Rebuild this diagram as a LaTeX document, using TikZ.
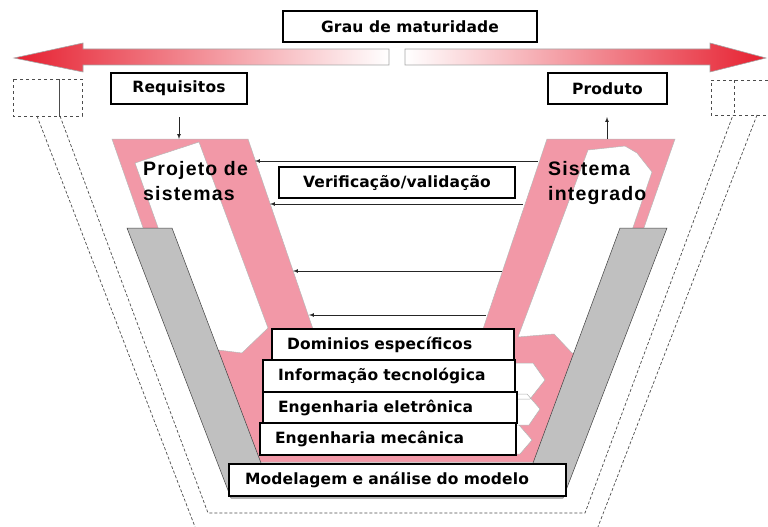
\documentclass[tikz,border=0pt]{standalone}
\usepackage{fontspec}
\setmainfont{Liberation Sans}
\newfontfamily\lblfont[LetterSpace=1]{DejaVu Sans}
\newfontfamily\bigfont[LetterSpace=6]{Liberation Sans}
\usetikzlibrary{positioning, arrows}
\definecolor{vred}{RGB}{230,32,48}
\definecolor{vpink}{RGB}{242,152,167}
\definecolor{vgray}{RGB}{192,192,192}
\tikzset{
 lbox/.style={draw=black, line width=1.1pt, fill=white, minimum height=31pt, inner sep=0pt,
    font=\lblfont\bfseries\fontsize{15.5}{17}\selectfont},
 sbox/.style={align=left, inner xsep=15pt}
}

\begin{document}
\begin{tikzpicture}[x=1pt,y=-1pt]
\tikzstyle{connect}=[-latex, gray!30!black, line width=0.7pt]
\tikzstyle{guide}=[dashed, gray!60!black, line width=0.7pt]
\tikzstyle{bigtxt}=[font=\bigfont\bfseries\fontsize{19.5}{25}\selectfont, align=left, inner sep=0pt]
\useasboundingbox (0,0) rectangle (768,527);
% 1. Frame and arrows
%%%%%%%%%%
\draw[guide, line width=1pt] (13,79) rectangle (59,116) (59,79) rectangle (82,116);
\draw[guide, line width=1pt] (768,80) -- (711,80) -- (711,115) -- (768,115) (734,80) -- (734,115);
\draw[guide, densely dashed] (37,116) -- (197,532);
\draw[guide, densely dashed] (60,116) -- (208,513) -- (585,513) -- (733,115);
\draw[guide, densely dashed] (757,115) -- (596,532);

\draw[gray!70, line width=0.6pt, left color=vred, middle color=vred!45!white, right color=white]
  (14,58) -- (83,43) -- (83,49) -- (389,49) -- (389,65) -- (83,65) -- (83,72) -- cycle;
\draw[gray!70, line width=0.6pt, left color=white, middle color=vred!45!white, right color=vred]
  (405,49) -- (710,49) -- (710,43) -- (766,58) -- (710,72) -- (710,65) -- (405,65) -- cycle;

% pink V with its two openings
\filldraw[fill=vpink, draw=gray!55, line width=0.5pt, even odd rule]
  (112,139) -- (248,139) -- (315,335) -- (481,335) -- (547,139) -- (675,139) -- (562,462) -- (225,462) -- cycle
  (135,163) -- (199,142) -- (268,328) -- (242,353) -- (218,350) -- (202,351) -- cycle
  (588,150) -- (625,146) -- (637,153) -- (652,172) -- (590,353) -- (572,353) -- (554,334) -- (518,337) -- cycle;
\filldraw[fill=white, draw=gray!60, line width=0.5pt]
  (505,363) -- (533,363) -- (545,380) -- (530,399) -- (505,399) -- cycle
  (505,394) -- (527,394) -- (540,409) -- (529,425) -- (505,425) -- cycle
  (505,425) -- (519,425) -- (532,440) -- (520,454) -- (505,454) -- cycle;
% gray V
\filldraw[fill=vgray, draw=gray!50!black, line width=0.5pt]
  (127,228) -- (172,228) -- (261,463) -- (533,463) -- (620,228) -- (667,228) -- (563,498) -- (231,498) -- cycle;

% 2. Nodes
%%%%%%%%%%
\node[lbox, minimum width=254pt] (grau) at (410,26.5) {Grau de maturidade};
\node[lbox, minimum width=136pt] (req) at (179,88.5) {Requisitos};
\node[lbox, minimum width=119pt] (prod) at (607.5,88.5) {Produto};
\node[lbox, minimum width=236pt] (verif) at (397,182.5) {Verificação/validação};

\node[lbox, sbox, text width=212pt] (dom) at (393,344.5) {Dominios específicos};
\node[lbox, sbox, text width=222pt, minimum height=32pt] (info) at (389,376) {Informação tecnológica};
\node[lbox, sbox, text width=224pt] (eletr) at (390,407.5) {Engenharia eletrônica};
\node[lbox, sbox, text width=226pt, minimum height=32pt] (mec) at (388,439) {Engenharia mecânica};
\node[lbox, sbox, inner xsep=16pt, text width=305pt, minimum height=32pt] (model) at (397.5,480) {Modelagem e análise do modelo};

\node[bigtxt, anchor=north west] (proj) at (143,161) {Projeto de\\sistemas};
\node[bigtxt, anchor=north west] (sist) at (548,161) {Sistema\\integrado};

\coordinate (reqout) at (179,117);
\coordinate (reqin) at (179,139);
\coordinate (prodin) at (607,117);
\coordinate (prodout) at (607,139);
\coordinate (r1) at (538,161);  \coordinate (l1) at (255,161);
\coordinate (r2) at (523,204);  \coordinate (l2) at (270,204);
\coordinate (r3) at (502,271);  \coordinate (l3) at (293,271);
\coordinate (r4) at (486,315);  \coordinate (l4) at (309,315);

% 3. Arrows
%%%%%%%%%%%
\path (reqout)  edge [connect] (reqin)
      (prodout) edge [connect] (prodin)
      (r1) edge [connect] (l1)
      (r2) edge [connect] (l2)
      (r3) edge [connect] (l3)
      (r4) edge [connect] (l4);

\end{tikzpicture}
\end{document}
